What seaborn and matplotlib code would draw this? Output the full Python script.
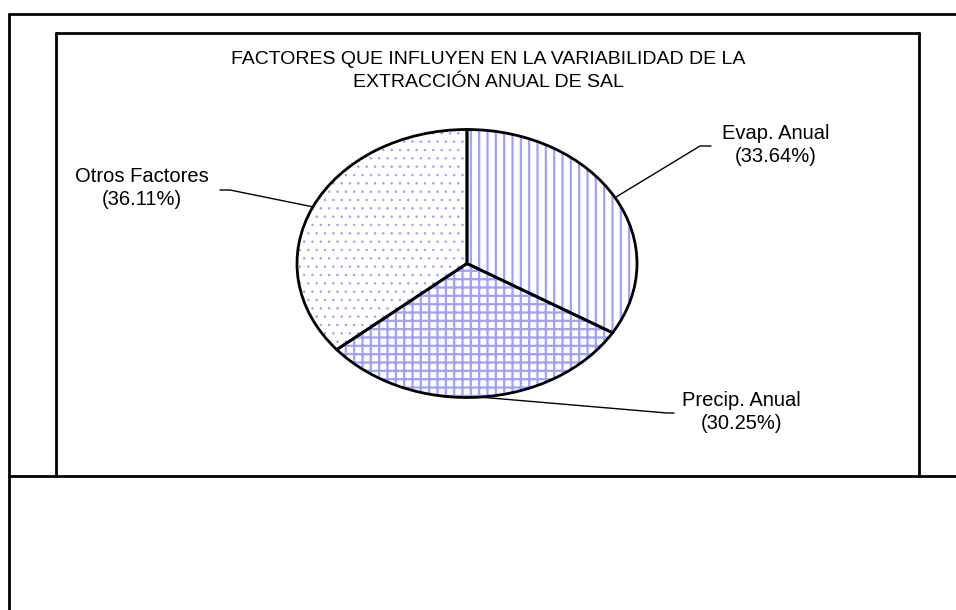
import matplotlib
matplotlib.use("Agg")
import numpy as np
import matplotlib.pyplot as plt
import seaborn as sns
from matplotlib.lines import Line2D

# data
labels = ["Evap. Anual", "Precip. Anual", "Otros Factores"]
shares = [33.64, 30.25, 36.11]
hatches = ["||", "++", ".."]

title = "FACTORES QUE INFLUYEN EN LA VARIABILIDAD DE LA\nEXTRACCIÓN ANUAL DE SAL"

sns.set_theme(style="white")
plt.rcParams["font.family"] = ["Liberation Sans", "DejaVu Sans"]
plt.rcParams["text.color"] = "black"
plt.rcParams["hatch.linewidth"] = 1.6

W, H = 956, 610
fig = plt.figure(figsize=(W / 100, H / 100), dpi=100)
fig.patch.set_facecolor("white")

# ellipse of the pie in pixels: centre and radii
cx, cy, rx, ry = 467, 263.5, 170, 134
ax = fig.add_axes([(cx - rx) / W, (H - cy - ry) / H, 2 * rx / W, 2 * ry / H])


def pie_xy(px, py):
    # pixel position of the picture -> pie data coords
    return (px - cx) / rx, (cy - py) / ry


hatch_col = "#a0a0ff"
wedges, _ = ax.pie(shares, startangle=90, counterclock=False, radius=1,
                   colors=["white"] * 3,
                   wedgeprops=dict(edgecolor=hatch_col, linewidth=0))
for w, h in zip(wedges, hatches):
    w.set_hatch(h)
# dots a bit finer than the line hatches
if hasattr(wedges[2], "set_hatch_linewidth"):
    wedges[2].set_hatch_linewidth(0.6)

# black outline on top
ax.pie(shares, startangle=90, counterclock=False, radius=1,
       wedgeprops=dict(fill=False, edgecolor="black", linewidth=2))

ax.set_aspect("auto")
ax.set_xlim(-1, 1)
ax.set_ylim(-1, 1)
ax.axis("off")

# labels with leader lines
label_pos = {"Evap. Anual": (776, 145), "Precip. Anual": (741, 412), "Otros Factores": (142, 188)}
elbows = {"Evap. Anual": [(700, 146), (711, 146)],
          "Precip. Anual": [(667, 413), (674, 413)],
          "Otros Factores": [(230, 190), (220, 190)]}
for w, lab, val in zip(wedges, labels, shares):
    mid = np.deg2rad((w.theta1 + w.theta2) / 2)
    pts = [(np.cos(mid), np.sin(mid))] + [pie_xy(*p) for p in elbows[lab]]
    xs, ys = zip(*pts)
    ax.plot(xs, ys, color="black", linewidth=1, clip_on=False)
    tx, ty = pie_xy(*label_pos[lab])
    ax.text(tx, ty, f"{lab}\n({val:.2f}%)", ha="center", va="center",
            fontsize=14.5, linespacing=1.25, color="black", clip_on=False)

fig.text(488 / W, 1 - 71 / H, title, ha="center", va="center",
         fontsize=14, linespacing=1.5, color="black")


# frame lines
def fline(x0, y0, x1, y1):
    fig.add_artist(Line2D([x0 / W, x1 / W], [1 - y0 / H, 1 - y1 / H],
                          color="black", linewidth=2, transform=fig.transFigure))


fline(9, 14, W, 14)
fline(9, 14, 9, H)
fline(9, 476, W, 476)
fline(56, 33, 919, 33)
fline(56, 33, 56, 476)
fline(919, 33, 919, 476)

fig.savefig("out.png", dpi=100)
